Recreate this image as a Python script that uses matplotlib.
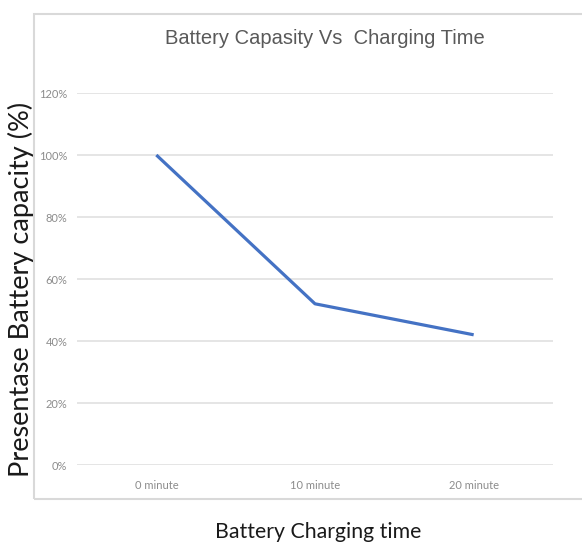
import matplotlib
matplotlib.use("Agg")
import matplotlib.pyplot as plt
from matplotlib.patches import Rectangle

# data
categories = ["0 minute", "10 minute", "20 minute"]
capacity = [100, 52, 42]
y_ticks = [0, 20, 40, 60, 80, 100, 120]

W, H = 582, 546
fig = plt.figure(figsize=(5.82, 5.46), dpi=100)
ax = fig.add_axes([77 / W, 1 - 465 / H, (553 - 77) / W, (465 - 93) / H])

# chart area border
fig.patches.append(Rectangle((34 / W, 1 - 499 / H), 1, (499 - 14) / H,
                             transform=fig.transFigure, fill=False,
                             edgecolor="#d9d9d9", linewidth=1.5))

x = range(len(categories))
ax.plot(x, capacity, color="#4472C4", linewidth=2.3, solid_capstyle="butt")

ax.set_xlim(-0.5, len(categories) - 0.5)
ax.set_ylim(0, 120)
ax.set_yticks(y_ticks)
ax.set_yticklabels([f"{v}%" for v in y_ticks], family="Lato", fontsize=8, color="#8c8c8c")
ax.set_xticks(list(x))
ax.set_xticklabels(categories, family="Lato", fontsize=8, color="#8c8c8c")
ax.tick_params(length=0)
ax.tick_params(axis="y", pad=7)
ax.tick_params(axis="x", pad=11)
ax.grid(axis="y", color="#e3e3e3", linewidth=1.3)
ax.set_axisbelow(True)
for s in ax.spines.values():
    s.set_visible(False)

fig.text(325 / W, 1 - 38 / H, "Battery Capasity Vs  Charging Time", ha="center", va="center",
         family="Liberation Sans", fontsize=14.5, color="#595959")
fig.text(21 / W, 1 - 289 / H, "Presentase Battery capacity (%)", rotation=90, ha="center", va="center",
         family="Lato", fontsize=19.5, color="#1a1a1a")
fig.text(318 / W, 1 - 532 / H, "Battery Charging time", ha="center", va="center",
         family="Lato", fontsize=15.3, color="#1a1a1a")

fig.savefig("out.png", dpi=100)
